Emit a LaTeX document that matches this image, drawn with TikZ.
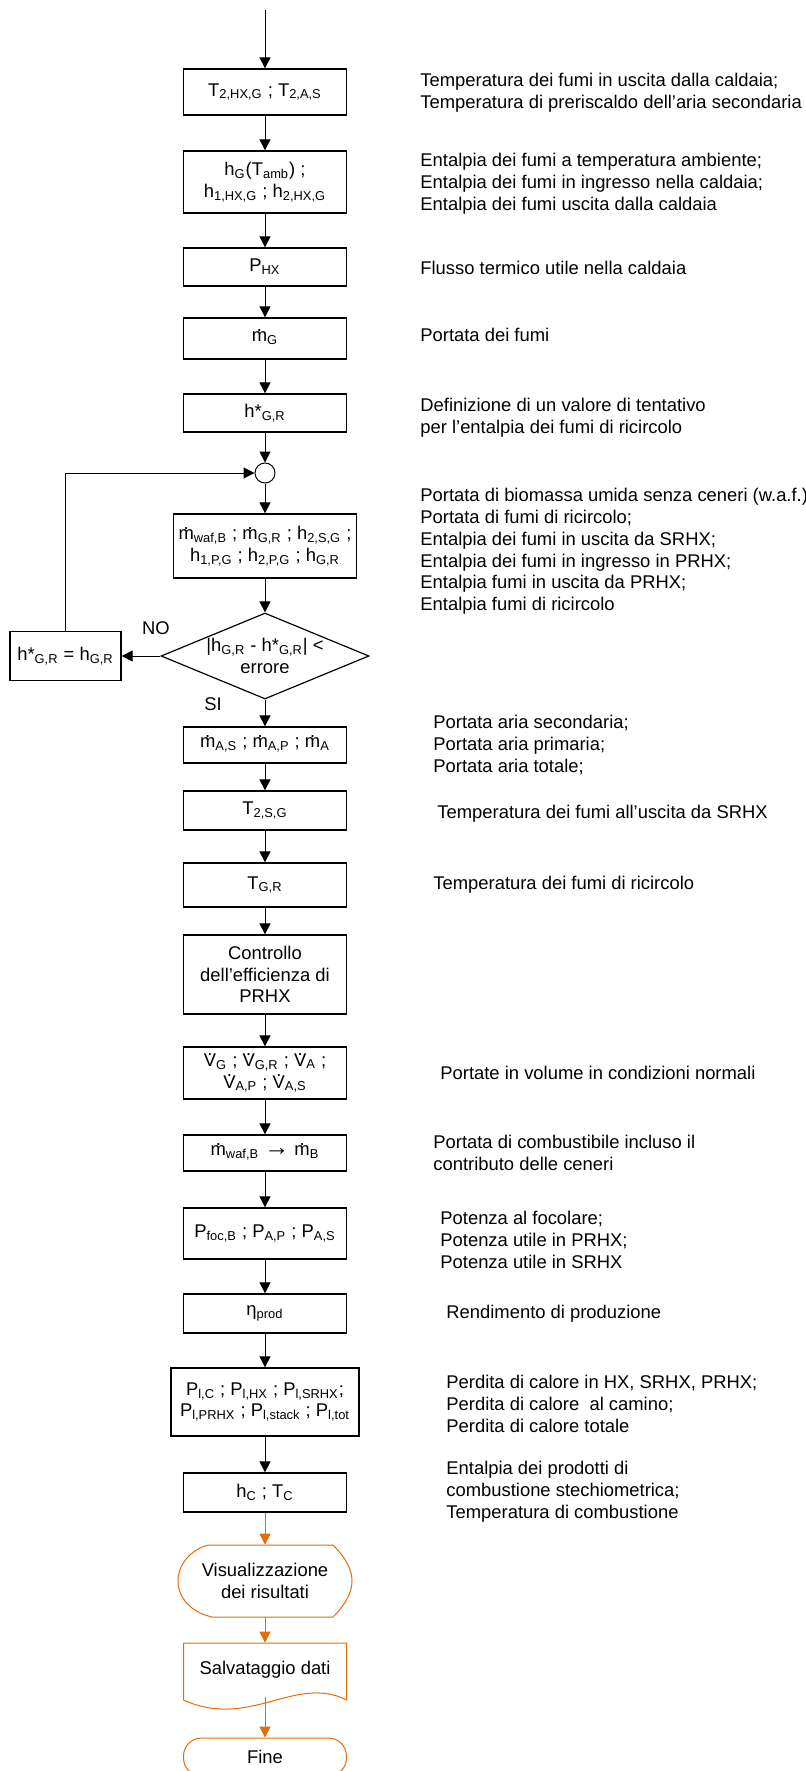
\documentclass[tikz,border=0pt]{standalone}
\usepackage{fontspec}
\setmainfont{Liberation Sans}
\usetikzlibrary{arrows.meta,shapes.geometric}

\definecolor{orng}{RGB}{228,108,10}
\newcommand{\idx}[1]{\textsubscript{#1}}
\newcommand{\mdot}{\ooalign{m\cr\hidewidth\raisebox{0.56em}{.}\hidewidth\cr}}
\newcommand{\Vdot}{\ooalign{V\cr\hidewidth\raisebox{0.6em}{.}\hidewidth\cr}}
\newcommand{\bigarr}{{\fontsize{12.5pt}{12.5pt}\selectfont\bfseries →}}

\tikzset{
  blk/.style={draw, line width=0.65pt, minimum width=81.5pt, align=center, inner sep=1pt},
  obox/.style={draw=orng, line width=0.5pt, minimum width=81.5pt, align=center, inner sep=1pt},
  txt/.style={align=center, inner sep=0pt},
  note/.style={anchor=west, align=left, inner sep=0pt},
  lbl/.style={inner sep=0pt},
  junc/.style={circle, draw, line width=0.5pt, minimum size=10pt, inner sep=0pt},
  test/.style={diamond, draw, line width=0.6pt, aspect=2.42, minimum width=104pt, minimum height=43pt, inner sep=0pt, align=center},
  flow/.style={-{Triangle[length=5.5pt,width=5.5pt]}, line width=0.5pt},
  oflow/.style={flow, draw=orng, fill=orng}
}

\begin{document}
\begin{tikzpicture}[x=0.5pt, y=-0.5pt, every node/.style={font=\fontsize{9.2pt}{10.9pt}\selectfont}]
                            \clip (0,0) rectangle (806,1771);
                            % Main column:
                            \coordinate (start) at (265,10);
                            \node[blk, minimum height=23pt] (b1) at (265,92) {T\idx{2,HX,G} ; T\idx{2,A,S}};
                            \node[blk, minimum height=31pt] (b2) at (265,182) {h\idx{G}(T\idx{amb}) ;\\h\idx{1,HX,G} ; h\idx{2,HX,G}};
                            \node[blk, minimum height=19pt] (b3) at (265,267) {P\idx{HX}};
                            \node[blk, minimum height=20.5pt] (b4) at (265,338.5) {\mdot\idx{G}};
                            \node[blk, minimum height=19pt] (b5) at (265,413) {h*\idx{G,R}};
                            \node[junc] (jn) at (265,473) {};
                            \node[blk, minimum width=91.5pt, minimum height=32pt] (b6) at (265,546) {\mdot\idx{waf,B} ; \mdot\idx{G,R} ; h\idx{2,S,G} ;\\h\idx{1,P,G} ; h\idx{2,P,G} ; h\idx{G,R}};
                            \node[test] (tst) at (265,656) {|h\idx{G,R} - h*\idx{G,R}| <\\errore};
                            \node[blk, minimum width=55.5pt, minimum height=24.5pt] (fix) at (65.5,656) {h*\idx{G,R} = h\idx{G,R}};
                            \node[lbl] (lno) at (156,628) {NO};
                            \node[lbl] (lsi) at (213,704) {SI};
                            \node[blk, minimum height=18pt] (b7) at (265,745) {\mdot\idx{A,S} ; \mdot\idx{A,P} ; \mdot\idx{A}};
                            \node[blk, minimum height=19.5pt] (b8) at (265,810.5) {T\idx{2,S,G}};
                            \node[blk, minimum height=22pt] (b9) at (265,885) {T\idx{G,R}};
                            \node[blk, minimum height=39.5pt] (b10) at (265,974.5) {Controllo\\dell’efficienza di\\PRHX};
                            \node[blk, minimum height=26pt] (b11) at (265,1073) {\Vdot\idx{G} ; \Vdot\idx{G,R} ; \Vdot\idx{A} ;\\\Vdot\idx{A,P} ; \Vdot\idx{A,S}};
                            \node[blk, minimum height=18pt] (b12) at (265,1153) {\mdot\idx{waf,B} \bigarr{} \mdot\idx{B}};
                            \node[blk, minimum height=25.5pt] (b13) at (265,1233.5) {P\idx{foc,B} ; P\idx{A,P} ; P\idx{A,S}};
                            \node[blk, minimum height=19.5pt] (b14) at (265,1313.5) {η\idx{prod}};
                            \node[blk, minimum width=94pt, minimum height=34pt] (b15) at (265,1402) {P\idx{l,C} ; P\idx{l,HX} ; P\idx{l,SRHX};\\P\idx{l,PRHX} ; P\idx{l,stack} ; P\idx{l,tot}};
                            \node[blk, minimum height=19.5pt] (b16) at (265,1492.5) {h\idx{C} ; T\idx{C}};
                            % Orange end part:
                            \node[txt, minimum width=87pt, minimum height=36pt] (show) at (265,1581) {Visualizzazione\\dei risultati};
                            \draw[orng, line width=0.5pt] (208,1545) -- (333,1545) .. controls (346,1558) and (352,1570) .. (352,1581) .. controls (352,1592) and (346,1604) .. (333,1617) -- (212,1617) .. controls (190,1612) and (178,1597) .. (178,1581) .. controls (178,1565) and (190,1550) .. (208,1545) -- cycle;
                            \node[txt, minimum width=81.5pt, minimum height=27pt] (save) at (265,1670) {Salvataggio dati};
                            \draw[orng, line width=0.5pt] (183.5,1700) -- (183.5,1643) -- (346.5,1643) -- (346.5,1700) .. controls (295,1674) and (250,1730) .. (183.5,1700);
                            \node[obox, rounded corners=9pt, minimum height=19pt] (fine) at (265,1757) {Fine};
                            % Wires:
                            \draw[flow] (start) -- (b1);
                            \draw[flow] (b1) -- (b2);
                            \draw[flow] (b2) -- (b3);
                            \draw[flow] (b3) -- (b4);
                            \draw[flow] (b4) -- (b5);
                            \draw[flow] (b5) -- (jn);
                            \draw[flow] (jn) -- (b6);
                            \draw[flow] (b6) -- (tst);
                            \draw[flow] (tst.west) -- (fix.east);
                            \draw[flow] (fix.north) |- (jn.west);
                            \draw[flow] (tst) -- (b7);
                            \draw[flow] (b7) -- (b8);
                            \draw[flow] (b8) -- (b9);
                            \draw[flow] (b9) -- (b10);
                            \draw[flow] (b10) -- (b11);
                            \draw[flow] (b11) -- (b12);
                            \draw[flow] (b12) -- (b13);
                            \draw[flow] (b13) -- (b14);
                            \draw[flow] (b14) -- (b15);
                            \draw[flow] (b15) -- (b16);
                            \draw[oflow] (b16) -- (show);
                            \draw[oflow] (show) -- (save);
                            \draw[oflow] (save) -- (fine);
                            % Notes on the right:
                            \node[note] (t1) at (420,92.5) {Temperatura dei fumi in uscita dalla caldaia;\\Temperatura di preriscaldo dell’aria secondaria};
                            \node[note] (t2) at (420,183.5) {Entalpia dei fumi a temperatura ambiente;\\Entalpia dei fumi in ingresso nella caldaia;\\Entalpia dei fumi uscita dalla caldaia};
                            \node[note] (t3) at (420,268) {Flusso termico utile nella caldaia};
                            \node[note] (t4) at (420,335) {Portata dei fumi};
                            \node[note] (t5) at (420,417.5) {Definizione di un valore di tentativo\\per l’entalpia dei fumi di ricircolo};
                            \node[note] (t6) at (420,551.5) {Portata di biomassa umida senza ceneri (w.a.f.);\\Portata di fumi di ricircolo;\\Entalpia dei fumi in uscita da SRHX;\\Entalpia dei fumi in ingresso in PRHX;\\Entalpia fumi in uscita da PRHX;\\Entalpia fumi di ricircolo};
                            \node[note] (t7) at (433,745) {Portata aria secondaria;\\Portata aria primaria;\\Portata aria totale;};
                            \node[note] (t8) at (437,814) {Temperatura dei fumi all’uscita da SRHX};
                            \node[note] (t9) at (433,885) {Temperatura dei fumi di ricircolo};
                            \node[note] (t10) at (440,1073) {Portate in volume in condizioni normali};
                            \node[note] (t11) at (433,1153) {Portata di combustibile incluso il\\contributo delle ceneri};
                            \node[note] (t12) at (440,1240) {Potenza al focolare;\\Potenza utile in PRHX;\\Potenza utile in SRHX};
                            \node[note] (t13) at (446,1314) {Rendimento di produzione};
                            \node[note] (t14) at (446,1404) {Perdita di calore in HX, SRHX, PRHX;\\Perdita di calore \ al camino;\\Perdita di calore totale};
                            \node[note] (t15) at (446,1492) {Entalpia dei prodotti di\\combustione stechiometrica;\\Temperatura di combustione};
                        \end{tikzpicture}
\end{document}
